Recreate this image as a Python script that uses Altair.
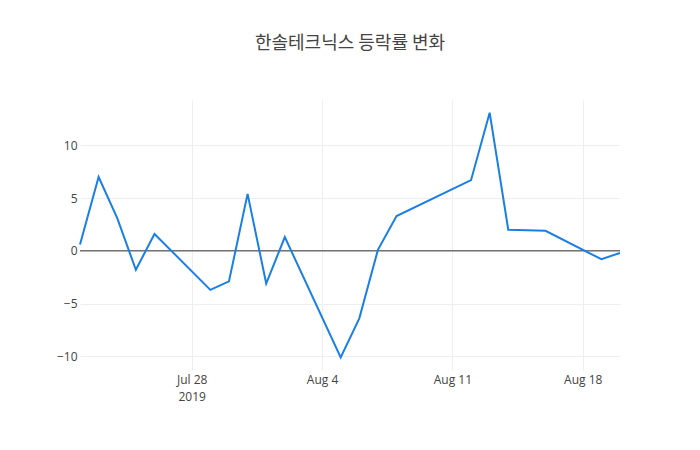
import altair as alt
import pandas as pd

dates = [
    "2019-07-22", "2019-07-23", "2019-07-24", "2019-07-25", "2019-07-26",
    "2019-07-29", "2019-07-30", "2019-07-31", "2019-08-01", "2019-08-02",
    "2019-08-05", "2019-08-06", "2019-08-07", "2019-08-08", "2019-08-12",
    "2019-08-13", "2019-08-14", "2019-08-16", "2019-08-19", "2019-08-20",
]
rates = [
    0.6, 7.0, 3.1, -1.8, 1.6,
    -3.7, -2.9, 5.4, -3.1, 1.3,
    -10.1, -6.4, 0.1, 3.3, 6.7,
    13.1, 2.0, 1.9, -0.8, -0.2,
]
y_ticks = [-10, -5, 0, 5, 10]

df = pd.DataFrame({"date": dates, "rate": rates})
zero = pd.DataFrame({"rate": [0]})

font = "Open Sans"
x_ticks = [
    alt.DateTime(year=2019, month=7, date=28, utc=True),
    alt.DateTime(year=2019, month=8, date=4, utc=True),
    alt.DateTime(year=2019, month=8, date=11, utc=True),
    alt.DateTime(year=2019, month=8, date=18, utc=True),
]

line = alt.Chart(df).mark_line(color="#1a7fe3", strokeWidth=2).encode(
    x=alt.X(
        "date:T",
        scale=alt.Scale(
            type="utc",
            domain=[
                alt.DateTime(year=2019, month=7, date=22, utc=True),
                alt.DateTime(year=2019, month=8, date=20, utc=True),
            ],
        ),
        axis=alt.Axis(
            title=None,
            values=x_ticks,
            domain=False,
            ticks=False,
            grid=True,
            gridColor="#eeeeee",
            labelPadding=4,
            labelLineHeight=17,
            labelExpr="utcFormat(datum.value, '%m-%d') == '07-28' ? [utcFormat(datum.value, '%b %-d'), '2019'] : utcFormat(datum.value, '%b %-d')",
        ),
    ),
    y=alt.Y(
        "rate:Q",
        scale=alt.Scale(domain=[-11.3, 14.3], nice=False, zero=False),
        axis=alt.Axis(
            title=None,
            values=y_ticks,
            domain=False,
            ticks=False,
            grid=True,
            gridColor="#eeeeee",
            labelPadding=3,
            labelExpr="replace(format(datum.value, 'd'), '-', '\u2212')",
        ),
    ),
)

zero_line = alt.Chart(zero).mark_rule(color="#333333", strokeWidth=1).encode(
    y="rate:Q"
)

chart = (
    alt.layer(zero_line, line)
    .properties(
        width=540,
        height=270,
        autosize=alt.AutoSizeParams(type="none"),
        padding={"left": 72, "top": 92, "right": 72, "bottom": 72},
        title=alt.TitleParams(
            "한솔테크닉스 등락률 변화",
            font="Noto Sans CJK KR",
            fontSize=18,
            fontWeight="normal",
            color="#444444",
            anchor="middle",
            offset=47,
        ),
    )
    .configure_axis(
        labelFont=font,
        labelFontSize=12,
        labelColor="#444444",
    )
    .configure_view(stroke=None)
)

chart.save("out.html", embed_options={"renderer": "svg", "actions": False})
